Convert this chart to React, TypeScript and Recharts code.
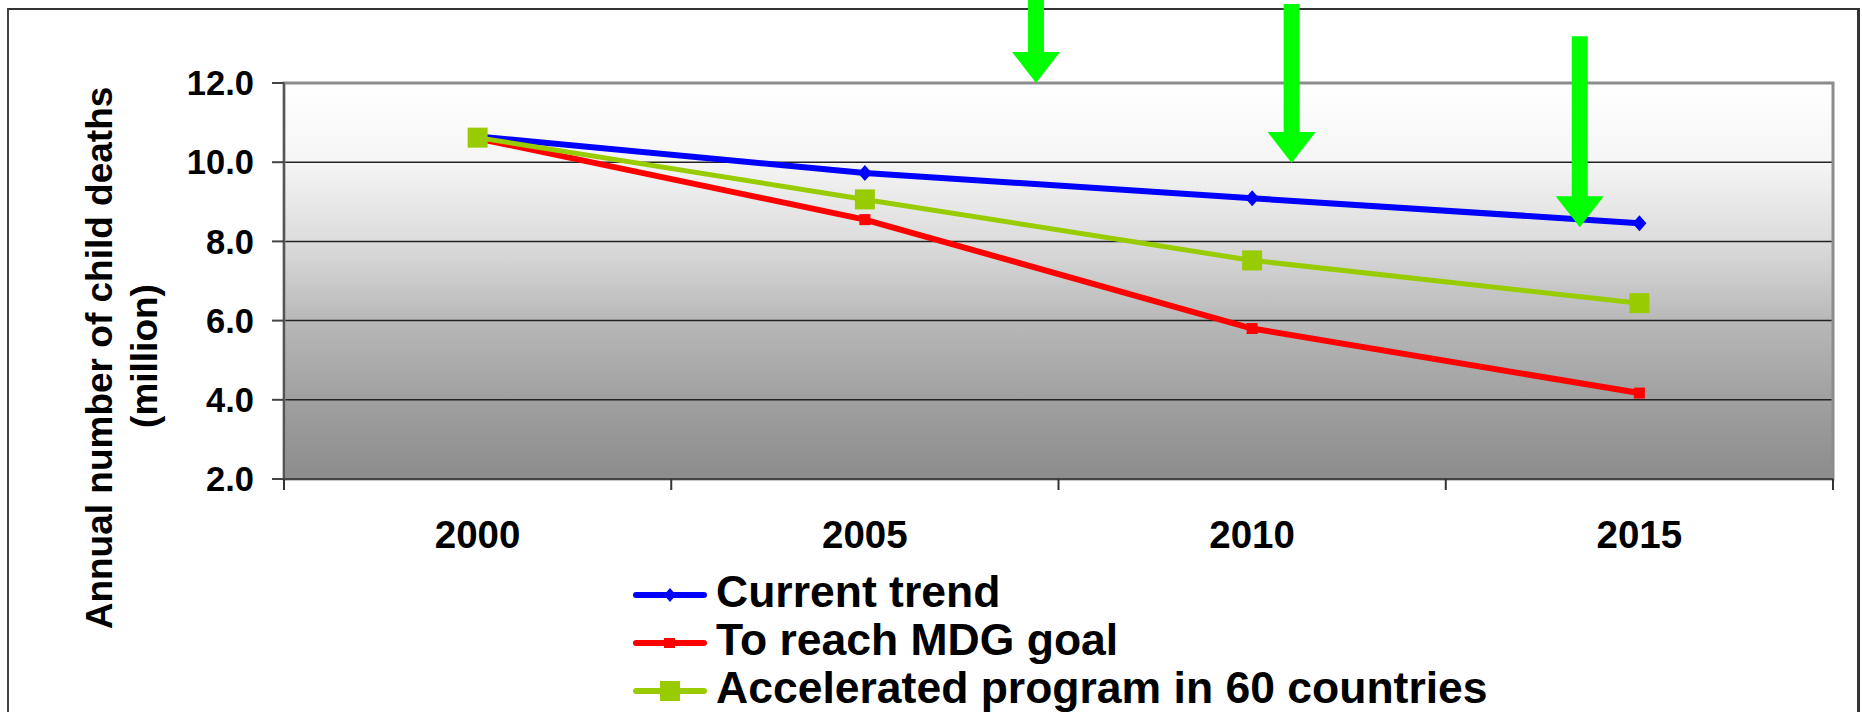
import { LineChart, Line, XAxis, YAxis, CartesianGrid, ReferenceDot, ReferenceArea } from 'recharts';

const years = [2000, 2005, 2010, 2015];
const currentTrend = [10.65, 9.73, 9.09, 8.46];
const mdgGoal = [10.6, 8.55, 5.8, 4.17];
const accelerated = [10.62, 9.06, 7.52, 6.44];
const yTicks = [2, 4, 6, 8, 10, 12];

// green call-out arrows: tip position in data units, shaft length in px
const arrowYears = [2007.21, 2010.51, 2014.23];
const arrowValues = [12.0, 9.98, 8.36];
const arrowLengths = [90, 159, 191];

const FONT = '"Liberation Sans", Arial, sans-serif';

const data = years.map((year, i) => ({
  year,
  current: currentTrend[i],
  mdg: mdgGoal[i],
  accel: accelerated[i],
}));

// tick marks sit between the categories, labels on them
const xTicks = [...years.map(y => y - 2.5), years[years.length - 1] + 2.5, ...years].sort((a, b) => a - b);

const diamond = (color: string, r: number) => (p: any) => {
  const { cx, cy, index } = p;
  if (cx == null || cy == null) return <g key={index} />;
  return (
    <polygon
      key={index}
      points={`${cx},${cy - r - 1} ${cx + r},${cy} ${cx},${cy + r + 1} ${cx - r},${cy}`}
      fill={color}
    />
  );
};

const square = (color: string, s: number) => (p: any) => {
  const { cx, cy, index } = p;
  if (cx == null || cy == null) return <g key={index} />;
  return <rect key={index} x={cx - s / 2} y={cy - s / 2} width={s} height={s} fill={color} />;
};

const series = [
  { key: 'current', name: 'Current trend', color: '#0000ff', width: 6, dot: diamond('#0000ff', 7), legend: 'diamond' },
  { key: 'mdg', name: 'To reach MDG goal', color: '#ff0000', width: 6, dot: square('#ff0000', 11), legend: 'small' },
  { key: 'accel', name: 'Accelerated program in 60 countries', color: '#99cc00', width: 5, dot: square('#99cc00', 20), legend: 'big' },
];

const XTick = (p: any) => {
  const { x, y, payload } = p;
  const v = payload.value;
  if (!Number.isInteger(v)) {
    return <line x1={x} y1={y} x2={x} y2={y + 11} stroke="#333" strokeWidth={2} />;
  }
  return (
    <text x={x} y={y + 69} textAnchor="middle" fontFamily={FONT} fontWeight="bold" fontSize={38.5} fill="#000">
      {v}
    </text>
  );
};

const arrowShape = (len: number) => (p: any) => {
  const { cx, cy } = p;
  const hw = 24, sw = 8, hh = 31;
  const d = `M${cx},${cy} L${cx - hw},${cy - hh} L${cx - sw},${cy - hh} L${cx - sw},${cy - len} L${cx + sw},${cy - len} L${cx + sw},${cy - hh} L${cx + hw},${cy - hh} Z`;
  return <path d={d} fill="#00ff00" />;
};

function LegendBox() {
  return (
    <g>
      {series.map((s, i) => {
        const y = 595 + i * 48;
        const mx = 670;
        let marker;
        if (s.legend === 'diamond') {
          marker = <polygon points={`${mx},${y - 7} ${mx + 6},${y} ${mx},${y + 7} ${mx - 6},${y}`} fill={s.color} />;
        } else if (s.legend === 'small') {
          marker = <rect x={mx - 6} y={y - 5} width={11} height={10} fill={s.color} />;
        } else {
          marker = <rect x={mx - 10} y={y - 10} width={20} height={20} fill={s.color} />;
        }
        return (
          <g key={s.key}>
            <line x1={636} y1={y} x2={704} y2={y} stroke={s.color} strokeWidth={6} strokeLinecap="round" />
            {marker}
            <text x={716} y={y + 12} fontFamily={FONT} fontWeight="bold" fontSize={44.5} fill="#000">
              {s.name}
            </text>
          </g>
        );
      })}
    </g>
  );
}

export default function App() {
  return (
    <div style={{ position: 'absolute', left: 0, top: 0, width: 1862, height: 712, background: '#fff', overflow: 'hidden' }}>
      <div
        style={{
          position: 'absolute', left: 7, top: 8, width: 1848, height: 760,
          borderTop: '2px solid #333', borderLeft: '2px solid #444', borderRight: '3px solid #333',
        }}
      />
      <div style={{ position: 'absolute', left: 0, top: 0 }}>
        <LineChart width={1862} height={712} data={data} margin={{ top: 83, right: 29, left: 184, bottom: 133 }}>
          <defs>
            <linearGradient id="plotBg" x1="0" y1="0" x2="0" y2="1">
              <stop offset="0" stopColor="#ffffff" />
              <stop offset="0.2" stopColor="#f5f5f5" />
              <stop offset="0.4" stopColor="#dcdcdc" />
              <stop offset="0.6" stopColor="#b8b8b8" />
              <stop offset="0.8" stopColor="#a0a0a0" />
              <stop offset="1" stopColor="#8c8c8c" />
            </linearGradient>
          </defs>
          <CartesianGrid vertical={false} stroke="#222" strokeWidth={1.5} fill="url(#plotBg)" fillOpacity={1} />
          <XAxis
            dataKey="year"
            type="number"
            domain={[years[0] - 2.5, years[years.length - 1] + 2.5]}
            ticks={xTicks}
            interval={0}
            tick={XTick}
            tickLine={false}
            tickSize={0}
            tickMargin={0}
            height={100}
            axisLine={{ stroke: '#444', strokeWidth: 2 }}
          />
          <YAxis
            type="number"
            domain={[2, 12]}
            ticks={yTicks}
            interval={0}
            width={100}
            tickSize={12}
            tickMargin={18}
            tickFormatter={(v: number) => v.toFixed(1)}
            tick={{ fontFamily: FONT, fontWeight: 'bold', fontSize: 34.5, fill: '#000' }}
            tickLine={{ stroke: '#444', strokeWidth: 2 }}
            axisLine={{ stroke: '#555', strokeWidth: 2 }}
          />
          <ReferenceArea
            x1={years[0] - 2.5}
            x2={years[years.length - 1] + 2.5}
            y1={2}
            y2={12}
            fill="none"
            stroke="#8c8c8c"
            strokeWidth={3}
            ifOverflow="visible"
          />
          {series.map(s => (
            <Line
              key={s.key}
              type="linear"
              dataKey={s.key}
              name={s.name}
              stroke={s.color}
              strokeWidth={s.width}
              dot={s.dot}
              activeDot={false}
              isAnimationActive={false}
            />
          ))}
          {arrowYears.map((ay, i) => (
            <ReferenceDot
              key={i}
              x={ay}
              y={arrowValues[i]}
              r={0}
              ifOverflow="visible"
              shape={arrowShape(arrowLengths[i])}
            />
          ))}
        </LineChart>
      </div>
      <svg width={1862} height={712} style={{ position: 'absolute', left: 0, top: 0, pointerEvents: 'none' }}>
        <text x={112} y={358} transform="rotate(-90 112 358)" textAnchor="middle" fontFamily={FONT} fontWeight="bold" fontSize={37} fill="#000">
          Annual number of child deaths
        </text>
        <text x={157} y={356} transform="rotate(-90 157 356)" textAnchor="middle" fontFamily={FONT} fontWeight="bold" fontSize={37} fill="#000">
          (million)
        </text>
        <LegendBox />
      </svg>
    </div>
  );
}
